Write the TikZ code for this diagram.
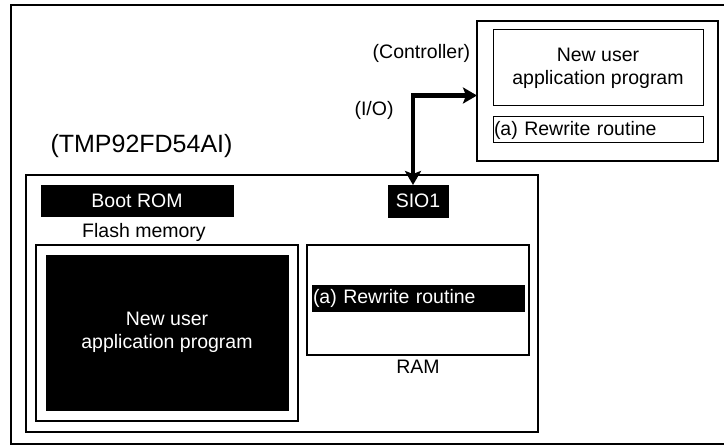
\documentclass[tikz,border=0pt]{standalone}
\usepackage{fontspec}
\setmainfont{Liberation Sans}
\usetikzlibrary{arrows.meta}
\tikzset{
  x=1pt, y=-1pt,
  every node/.style={inner sep=0pt, outer sep=0pt, font=\fontsize{19.5}{23}\selectfont},
  box/.style={draw=black, fill=white, rectangle, anchor=north west},
  blackbox/.style={draw=black, fill=black, text=white, rectangle, anchor=north west},
  lbl/.style={anchor=base, text=black},
  bus/.style={line width=4.5pt, {Stealth[length=14pt,width=16pt,inset=3pt]}-{Stealth[length=14pt,width=16pt,inset=3pt]}},
}
\begin{document}
\begin{tikzpicture}
\useasboundingbox (0,0) rectangle (724,446);
\fill[white] (0,0) rectangle (724,446);
% outer frame (right side lies outside the picture)
\node[box, line width=1.5pt, minimum width=725, minimum height=439] (frame) at (11,5) {};
% chip
\node[lbl, font=\fontsize{25}{30}\selectfont] (chiplbl) at (141.5,153) {(TMP92FD54AI)};
\node[box, line width=1.5pt, minimum width=512, minimum height=257] (chip) at (26,175) {};
\node[blackbox, minimum width=192, minimum height=31] (boot) at (41,185) {Boot ROM};
\node[blackbox, minimum width=60, minimum height=32] (sio) at (388,185) {SIO1};
\node[lbl] (flashlbl) at (144,238) {Flash memory};
\node[box, line width=2pt, minimum width=262, minimum height=176] (flash) at (36,245) {};
\node[blackbox, minimum width=242, minimum height=155, align=center] (newprog) at (46,255) {New user\\application program};
\node[box, line width=1.5pt, minimum width=222, minimum height=110] (ram) at (307,245) {};
\node[blackbox, minimum height=26, text width=210pt, inner xsep=1pt, align=left] (ramrw) at (312,285) {(a) Rewrite routine};
\node[lbl] (ramlbl) at (418,374) {RAM};
% controller
\node[box, line width=2.5pt, minimum width=241, minimum height=140] (ctrl) at (477,21) {};
\node[box, line width=1pt, minimum width=210, minimum height=76, align=center] (ctrlprog) at (493,30) {New user\\application program};
\node[box, line width=1pt, minimum height=26, text width=208pt, inner xsep=1pt, align=left] (ctrlrw) at (493,117) {(a) Rewrite routine};
\node[lbl] (ctrllbl) at (421.5,59) {(Controller)};
\node[lbl] (iolbl) at (374,116) {(I/O)};
% connection
\draw[bus] ([xshift=-5pt]sio.north) |- ([yshift=-4.5pt]ctrl.west);
\end{tikzpicture}
\end{document}
